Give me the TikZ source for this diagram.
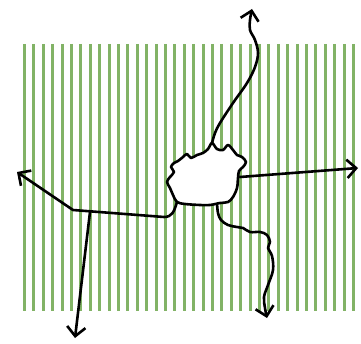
\documentclass[tikz,border=0pt]{standalone}
\usetikzlibrary{arrows.meta}
\definecolor{stripe}{RGB}{130,179,102}
\begin{document}
\begin{tikzpicture}[x=1pt,y=-1pt,
  road/.style={line width=2.6pt, line cap=round, line join=round, draw=black},
  arr/.style={-{Straight Barb[angle=90:13pt]}},
  stripeline/.style={draw=stripe, line width=3pt}]
\useasboundingbox (0,0) rectangle (361,344);
% stripes
\foreach \i in {0,...,35} \draw[stripeline] ({24.5+\i*9.4},44) -- ({24.5+\i*9.4},310.5);
% named points
\coordinate (topj) at (212,143);
\coordinate (rightj) at (240,177);
\coordinate (downj) at (217,203);
\coordinate (leftj) at (177,202);
\coordinate (bend) at (73,210);
\coordinate (branch) at (90,212);
\coordinate (ntip) at (252,9);
\coordinate (etip) at (358,168);
\coordinate (stip) at (267,318);
\coordinate (wtip) at (17,172);
\coordinate (swtip) at (75,338);
% roads
\draw[road,arr] plot[smooth,tension=0.6] coordinates {(topj) (215,133) (220,123) (233,103) (247,83) (255,67) (258,53) (255,40) (250,30) (250,20) (ntip)};
\draw[road,arr] (rightj) -- (etip);
\draw[road,arr] plot[smooth,tension=0.6] coordinates {(downj) (218,213) (221,220) (228,225) (237,227) (243,228) (250,232) (260,232) (267,235) (270,242) (268,248) (272,256) (273,270) (268,285) (264,297) (265,308) (stip)};
\draw[road,arr] (leftj) .. controls (174,212) and (172,217) .. (164,217) -- (bend) -- (wtip);
\draw[road,arr] (branch) -- (swtip);
% town blob
\draw[road,fill=white] plot[smooth cycle,tension=0.55] coordinates {(topj) (217,149) (223,150) (228,145) (233,150) (237,155) (242,157) (246,162) (243,167) (239,171) (238,178) (237,188) (233,197) (228,202) (220,203) (210,205) (200,205) (185,204) (177,202) (173,195) (170,188) (167,182) (170,177) (174,172) (171,167) (174,163) (178,161) (183,157) (187,154) (191,158) (197,155) (203,153) (208,149)};
\end{tikzpicture}
\end{document}
